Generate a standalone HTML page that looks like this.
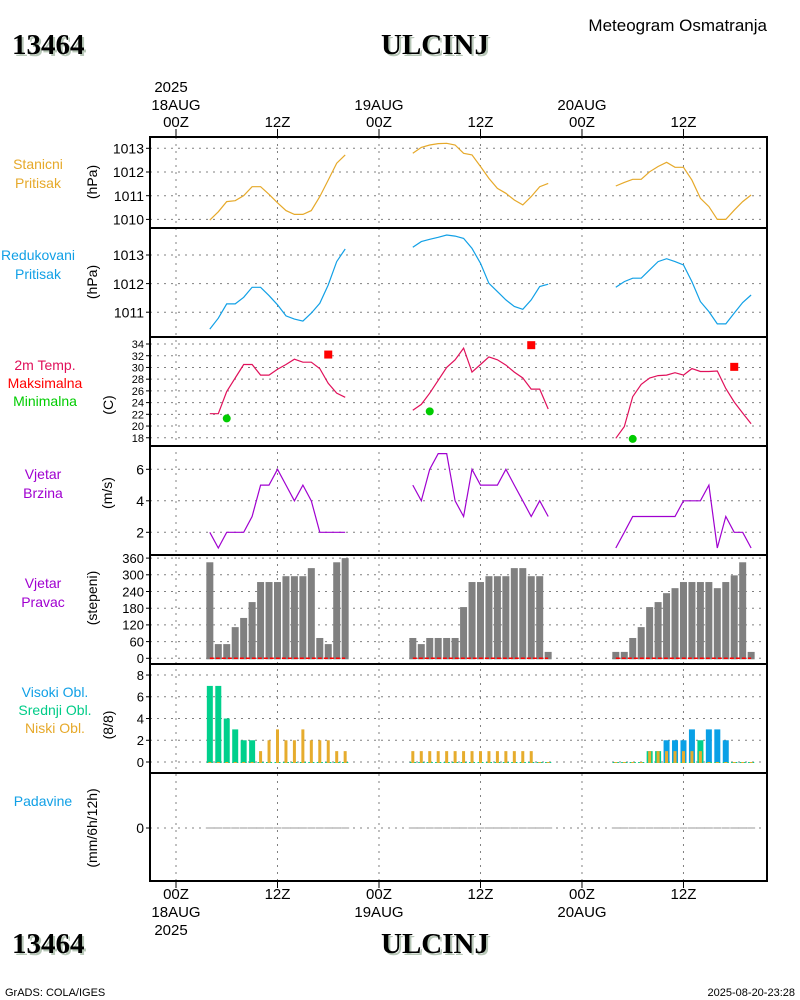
<!DOCTYPE html>
<html><head><meta charset="utf-8">
<style>
html,body{margin:0;padding:0;background:#fff;}
svg{display:block;}
text{font-family:"Liberation Sans",sans-serif;}
.t{font-size:15px;fill:#000;}
.big{font-family:"Liberation Serif",serif;font-weight:bold;font-size:29px;}
</style></head>
<body>
<svg id="chart" width="800" height="1000" viewBox="0 0 800 1000" xmlns="http://www.w3.org/2000/svg">
  <g>
    <text class="big" x="14" y="56" fill="#b8c8b8">13464</text>
    <text class="big" x="12" y="54" fill="#000">13464</text>
    <text class="big" x="437" y="56" fill="#b8c8b8" text-anchor="middle">ULCINJ</text>
    <text class="big" x="435" y="54" fill="#000" text-anchor="middle">ULCINJ</text>
    <text x="767" y="31" font-size="17" text-anchor="end">Meteogram Osmatranja</text>
  </g>
  <g>
    <text class="big" x="14" y="955" fill="#b8c8b8">13464</text>
    <text class="big" x="12" y="953" fill="#000">13464</text>
    <text class="big" x="437" y="955" fill="#b8c8b8" text-anchor="middle">ULCINJ</text>
    <text class="big" x="435" y="953" fill="#000" text-anchor="middle">ULCINJ</text>
    <text x="5" y="996" font-size="11">GrADS: COLA/IGES</text>
    <text x="795" y="996" font-size="11" text-anchor="end">2025-08-20-23:28</text>
  </g>
  <g id="grid"></g>
  <g id="marks"></g>
  <g id="frame"></g>
  <g id="labels"></g>
</svg>
<script>
// ---- data ----
const hours1 = [4,5,6,7,8,9,10,11,12,13,14,15,16,17,18,19,20];
const hours2 = [28,29,30,31,32,33,34,35,36,37,38,39,40,41,42,43,44];
const hours3 = [52,53,54,55,56,57,58,59,60,61,62,63,64,65,66,67,68];
const stnP1 = [1009.97,1010.32,1010.75,1010.79,1011.0,1011.38,1011.38,1011.06,1010.7,1010.37,1010.21,1010.21,1010.37,1010.96,1011.66,1012.37,1012.72];
const stnP2 = [1012.79,1013.04,1013.14,1013.2,1013.21,1013.14,1012.79,1012.72,1012.23,1011.73,1011.31,1011.1,1010.82,1010.61,1010.96,1011.38,1011.52];
const stnP3 = [1011.41,1011.56,1011.69,1011.69,1012.01,1012.23,1012.41,1012.2,1012.2,1011.66,1010.89,1010.54,1010.0,1010.0,1010.39,1010.75,1011.03];
const redP1 = [1010.41,1010.79,1011.29,1011.29,1011.52,1011.87,1011.87,1011.58,1011.26,1010.87,1010.76,1010.69,1010.97,1011.31,1011.95,1012.77,1013.21];
const redP2 = [1013.27,1013.47,1013.55,1013.62,1013.7,1013.66,1013.58,1013.23,1012.71,1012.01,1011.72,1011.43,1011.2,1011.1,1011.43,1011.9,1011.98];
const redP3 = [1011.87,1012.07,1012.19,1012.19,1012.48,1012.77,1012.87,1012.77,1012.65,1012.07,1011.37,1011.02,1010.59,1010.59,1010.97,1011.34,1011.6];
const temp1 = [22.1,22.1,25.9,28.2,30.5,30.5,28.7,28.7,29.7,30.5,31.4,30.9,30.9,29.8,27.3,25.6,24.9];
const temp2 = [22.7,23.7,25.6,27.8,30.0,31.3,33.3,29.2,30.5,31.8,31.3,30.4,29.2,28.2,26.3,26.3,22.9];
const temp3 = [17.9,19.9,25.0,27.1,28.2,28.6,28.7,29.1,28.7,29.8,29.3,29.3,29.4,26.4,24.1,22.2,20.4];
const tmaxHours = [18,42,66];
const tmaxVals = [32.2,33.8,30.1];
const tminHours = [6,30,54];
const tminVals = [21.3,22.5,17.8];
const wspd1 = [2,1,2,2,2,3,5,5,6,5,4,5,4,2,2,2,2];
const wspd2 = [5,4,6,7,7,4,3,6,5,5,5,6,5,4,3,4,3];
const wspd3 = [1,2,3,3,3,3,3,3,4,4,4,5,1,3,2,2,1];
const wdir1 = [345,51,51,112,145,202,274,274,274,295,295,295,324,73,51,345,360];
const wdir2 = [73,51,73,73,73,73,184,274,274,295,295,295,324,324,295,295,23];
const wdir3 = [23,23,73,112,184,202,234,252,274,274,274,274,252,274,298,345,23];
const cloudMid1 = [7,7,4,3,2,2,0,0,0,0,0,0,0,0,0,0,0];
const cloudMid2 = [0,0,0,0,0,0,0,0,0,0,0,0,0,0,0,0,0];
const cloudMid3 = [0,0,0,0,1,1,0,0,0,0,2,0,0,0,0,0,0];
const cloudHigh1 = [0,0,0,0,0,0,0,0,0,0,0,0,0,0,0,0,0];
const cloudHigh2 = [0,0,0,0,0,0,0,0,0,0,0,0,0,0,0,0,0];
const cloudHigh3 = [0,0,0,0,0,0,2,2,2,3,1,3,3,2,0,0,0];
const cloudLow1 = [0,0,0,0,0,0,1,2,3,2,2,3,2,2,2,1,1];
const cloudLow2 = [1,1,1,1,1,1,1,1,1,1,1,1,1,1,1,0,0];
const cloudLow3 = [0,0,0,0,1,1,1,1,1,1,1,0,0,0,0,0,0];
const precip1 = [0,0,0,0,0,0,0,0,0,0,0,0,0,0,0,0,0];
const precip2 = [0,0,0,0,0,0,0,0,0,0,0,0,0,0,0,0,0];
const precip3 = [0,0,0,0,0,0,0,0,0,0,0,0,0,0,0,0,0];
const stnTicks = [1010,1011,1012,1013];
const redTicks = [1011,1012,1013];
const tempTicks = [18,20,22,24,26,28,30,32,34];
const wspdTicks = [2,4,6];
const wdirTicks = [0,60,120,180,240,300,360];
const cloudTicks = [0,2,4,6,8];
const precipTicks = [0];
const timeTicksH = [0,12,24,36,48,60];
const timeTickLabels = ["00Z","12Z","00Z","12Z","00Z","12Z"];
const dayLabels = ["18AUG","19AUG","20AUG"];

// ---- scales ----
const X0=150, X1=767;
const xH = h => 176 + h*8.458;
const yStn = v => 148.3 + (1013-v)*23.7;
const yRed = v => 255 + (1013-v)*28.6;
const yTemp = v => 344 + (34-v)*5.86;
const yWspd = v => 469.3 + (6-v)*15.75;
const yWdir = v => 658.3 - v*(16.7/60);
const yCloud = v => 762 - v*10.87;
const yPrec = v => 828 - v*20;
const panels = [[137,228],[228,337],[337,446],[446,555],[555,664],[664,773],[773,881]];

const NS="http://www.w3.org/2000/svg";
function mk(tag, attrs, parent){const e=document.createElementNS(NS,tag);for(const k in attrs)e.setAttribute(k,attrs[k]);parent.appendChild(e);return e;}
const grid=document.getElementById('grid'), marks=document.getElementById('marks'), frame=document.getElementById('frame'), labels=document.getElementById('labels');

// vertical grid
timeTicksH.forEach(h=>{
  const l=mk('line',{x1:xH(h),x2:xH(h),y1:137,y2:881,stroke:'#808080','stroke-width':1,'stroke-dasharray':'2,5'},grid);
  
  
  const a=mk('line',{x1:xH(h),x2:xH(h),y1:129,y2:137,stroke:'#000'},frame);
  
  
  const b=mk('line',{x1:xH(h),x2:xH(h),y1:881,y2:888,stroke:'#000'},frame);
  
  
});
// time labels
timeTicksH.forEach((h,i)=>{
  const t=mk('text',{x:xH(h),y:127,'text-anchor':'middle',class:'t'},labels);t.textContent=timeTickLabels[i];
  
  
  const b=mk('text',{x:xH(h),y:899,'text-anchor':'middle',class:'t'},labels);b.textContent=timeTickLabels[i];
  
  
});
dayLabels.forEach((d,i)=>{
  const t=mk('text',{x:xH(i*24),y:110,'text-anchor':'middle',class:'t'},labels);t.textContent=d;
  
  
  const b=mk('text',{x:xH(i*24),y:917,'text-anchor':'middle',class:'t'},labels);b.textContent=d;
  
  
});
{const t=mk('text',{x:xH(0)-5,y:92,'text-anchor':'middle',class:'t'},labels);t.textContent='2025';


const b=mk('text',{x:xH(0)-5,y:935,'text-anchor':'middle',class:'t'},labels);b.textContent='2025';

}

// y ticks
function yAxis(ticks, scale, name, fs){
  ticks.forEach(v=>{
    const y=scale(v);
    const g=mk('line',{x1:X0,x2:X1,y1:y,y2:y,stroke:'#808080','stroke-dasharray':'2,5'},grid);
    
    
    const tk=mk('line',{x1:X0-4,x2:X0,y1:y,y2:y,stroke:'#000'},frame);
    
    
    const t=mk('text',{x:X0-6,y:y+fs*0.37,'text-anchor':'end','font-size':fs},labels);t.textContent=v;
    
    
  });
}
yAxis(stnTicks,yStn,'station-pressure',14);
yAxis(redTicks,yRed,'reduced-pressure',14);
yAxis(tempTicks,yTemp,'temperature',11);
yAxis(wspdTicks,yWspd,'wind-speed',14);
yAxis(wdirTicks,yWdir,'wind-direction',13);
yAxis(cloudTicks,yCloud,'cloud-cover',13);
yAxis(precipTicks,yPrec,'precipitation',14);

// frame
panels.forEach(p=>{
  const r=mk('rect',{x:X0,y:p[0],width:X1-X0,height:p[1]-p[0],fill:'none',stroke:'#000','stroke-width':2},frame);
  
  
});

// panel labels
function plabel(lines, cx, y0, dy, unit, uy){
  lines.forEach((l,i)=>{
    const t=mk('text',{x:cx,y:y0+i*dy,'text-anchor':'middle','font-size':14,fill:l[1]},labels);t.textContent=l[0];
    
    
  });
  const u=mk('text',{x:0,y:0,'text-anchor':'middle','font-size':14,transform:`translate(${uy[0]},${uy[1]}) rotate(-90)`},labels);u.textContent=unit;
  
  
}
plabel([['Stanicni','#e6a92a'],['Pritisak','#e6a92a']],38,169,19,'(hPa)',[97,182]);
plabel([['Redukovani','#11a0e6'],['Pritisak','#11a0e6']],38,260,19,'(hPa)',[97,282]);
plabel([['2m Temp.','#e0105a'],['Maksimalna','#ff0000'],['Minimalna','#00cc00']],45,370,18,'(C)',[113,405]);
plabel([['Vjetar','#a000d0'],['Brzina','#a000d0']],43,479,19,'(m/s)',[112,493]);
plabel([['Vjetar','#a000d0'],['Pravac','#a000d0']],43,588,19,'(stepeni)',[97,598]);
plabel([['Visoki Obl.','#11a0e6'],['Srednji Obl.','#00cc88'],['Niski Obl.','#e6a92a']],55,697,18,'(8/8)',[113,725]);
plabel([['Padavine','#11a0e6']],43,806,19,'(mm/6h/12h)',[97,828]);

// series helpers
const segs=[hours1,hours2,hours3];
function line(hrs, vals, scale, color, name){
  const pts=hrs.map((h,i)=>xH(h).toFixed(1)+','+scale(vals[i]).toFixed(1)).join(' ');
  const p=mk('polyline',{points:pts,fill:'none',stroke:color,'stroke-width':1.2},marks);
  
  
}
[stnP1,stnP2,stnP3].forEach((v,i)=>line(segs[i],v,yStn,'#e6a92a','station-pressure-line'));
[redP1,redP2,redP3].forEach((v,i)=>line(segs[i],v,yRed,'#11a0e6','reduced-pressure-line'));
[temp1,temp2,temp3].forEach((v,i)=>line(segs[i],v,yTemp,'#e0105a','temperature-line'));
[wspd1,wspd2,wspd3].forEach((v,i)=>line(segs[i],v,yWspd,'#a000d0','wind-speed-line'));
tmaxHours.forEach((h,i)=>{
  const r=mk('rect',{x:xH(h)-4,y:yTemp(tmaxVals[i])-4,width:8,height:8,fill:'#ff0000'},marks);
  
  
});
tminHours.forEach((h,i)=>{
  const c=mk('circle',{cx:xH(h),cy:yTemp(tminVals[i]),r:4,fill:'#00cc00'},marks);
  
  
});
// wind direction bars
[wdir1,wdir2,wdir3].forEach((v,si)=>{
  segs[si].forEach((h,i)=>{
    const y=yWdir(v[i]);
    const r=mk('rect',{x:xH(h)-3.5,y:y,width:7,height:yWdir(0)+1-y,fill:'#808080'},marks);
    
    
  });
  const hs=segs[si];
  const l=mk('line',{x1:xH(hs[0]),x2:xH(hs[hs.length-1]),y1:yWdir(0),y2:yWdir(0),stroke:'#ff0000','stroke-width':1.5,'stroke-dasharray':'4,2'},marks);
  
  
});
// clouds
function cbars(vals, hrs, w, color, name){
  hrs.forEach((h,i)=>{
    const y=yCloud(vals[i]);
    const r=mk('rect',{x:xH(h)-w/2,y:y,width:w,height:Math.max(1,yCloud(0)+1-y),fill:color},marks);
    
    
  });
}
[cloudHigh1,cloudHigh2,cloudHigh3].forEach((v,i)=>cbars(v,segs[i],6,'#0aa0e6','high-cloud-bar'));
[cloudMid1,cloudMid2,cloudMid3].forEach((v,i)=>cbars(v,segs[i],6,'#00d08c','mid-cloud-bar'));
[cloudLow1,cloudLow2,cloudLow3].forEach((v,i)=>cbars(v,segs[i],3,'#e6ac2d','low-cloud-bar'));
// precip
[precip1,precip2,precip3].forEach((v,si)=>{
  segs[si].forEach((h,i)=>{
    const y=yPrec(v[i]);
    const r=mk('rect',{x:xH(h)-4,y:y-0.5,width:8,height:Math.max(1,yPrec(0)-y+1),fill:'#999'},marks);
    
    
  });
});
</script>
</body></html>
